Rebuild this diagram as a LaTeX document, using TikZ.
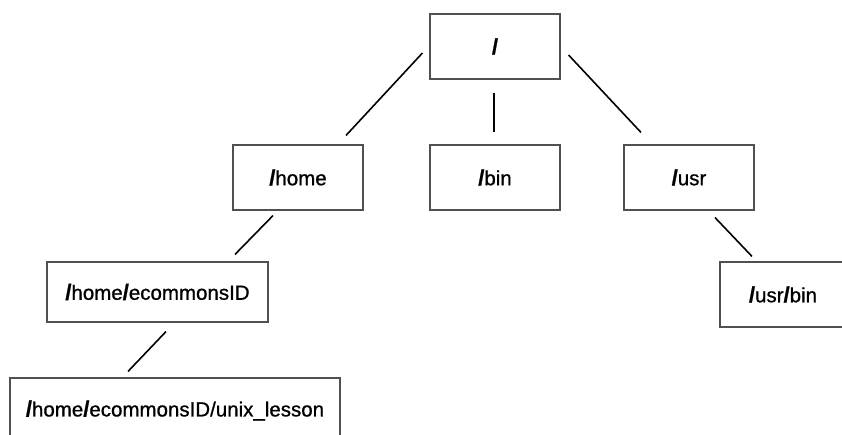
\documentclass[tikz,border=0pt]{standalone}
\usepackage{fontspec}
\setmainfont{Liberation Sans}
\newfontfamily\labelfont[FakeBold=0.9]{Liberation Sans}
\usetikzlibrary{calc}
\definecolor{boxline}{HTML}{505050}
\tikzset{
  dirbox/.style={draw=boxline, line width=1.1pt, fill=white, inner sep=0pt,
    font=\labelfont\fontsize{20.5}{24}\selectfont},
  link/.style={draw=black, line width=1.6pt}
}
\newcommand{\sep}{{\bfseries\fontsize{22}{24}\selectfont /}}
\begin{document}
\begin{tikzpicture}[x=1pt,y=-1pt]
  \useasboundingbox (0,0) rectangle (842,435);
  \clip (0,0) rectangle (842,435);
  % directory boxes
  \node[dirbox, minimum width=130pt, minimum height=65pt] (root)   at (495,46.5)  {\sep};
  \node[dirbox, minimum width=130pt, minimum height=65pt] (home)   at (298,177.5) {\sep home};
  \node[dirbox, minimum width=130pt, minimum height=65pt] (bin)    at (495,177.5) {\sep bin};
  \node[dirbox, minimum width=130pt, minimum height=65pt] (usr)    at (689,177.5) {\sep usr};
  \node[dirbox, minimum width=221pt, minimum height=60pt] (eco)    at (157.5,292) {\sep home\sep ecommonsID};
  \node[dirbox, minimum width=330pt, minimum height=65pt] (unix)   at (175,410.5) {\sep home\sep ecommonsID/unix\_lesson};
  \node[dirbox, minimum width=126pt, minimum height=65pt] (usrbin) at (783,294.5) {\sep usr\sep bin};
  % connectors between parent and child directories
  \draw[link] ($(root.west)+(-7,6.5)$)   -- ($(home.north)+(48,-9)$);
  \draw[link] ($(root.south)+(-1,13)$)   -- ($(bin.north)+(-1,-12)$);
  \draw[link] ($(root.east)+(8,8.5)$)    -- ($(usr.north)+(-48,-12)$);
  \draw[link] ($(home.south)+(-25,5)$)   -- ($(eco.north)+(77.5,-7)$);
  \draw[link] ($(eco.south)+(8.5,9)$)    -- ($(unix.north)+(-47,-6)$);
  \draw[link] ($(usr.south)+(26,7)$)     -- ($(usrbin.north)+(-31,-5)$);
\end{tikzpicture}
\end{document}
